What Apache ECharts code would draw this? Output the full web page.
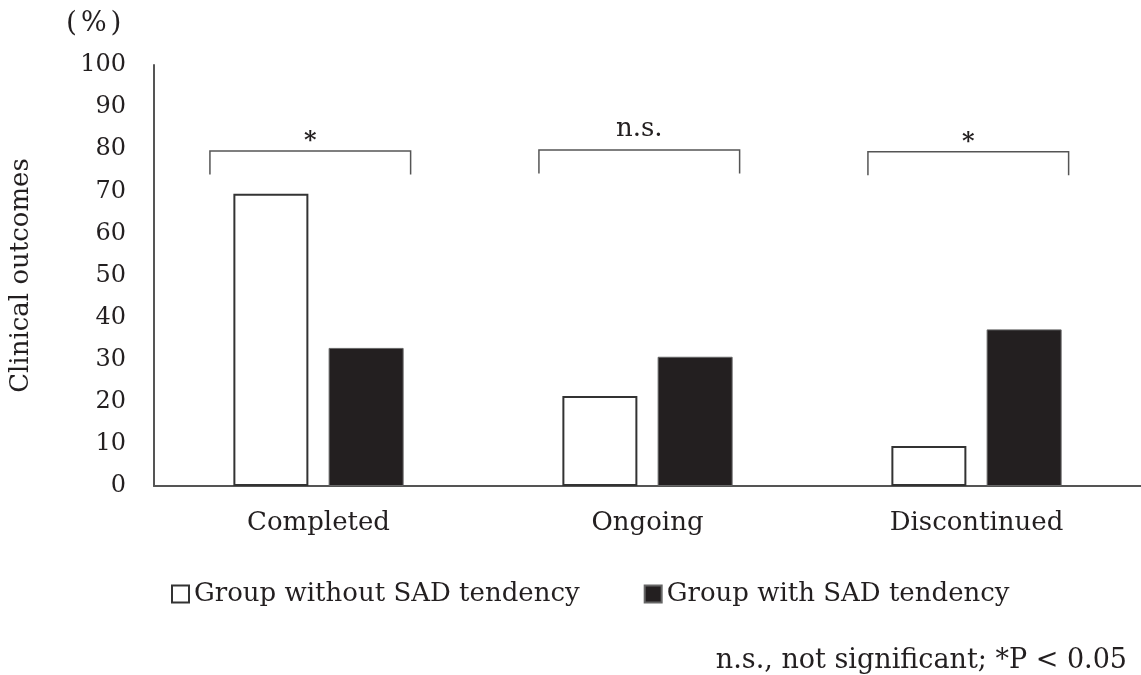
<!DOCTYPE html>
<html>
<head>
<meta charset="utf-8">
<script src="https://cdn.jsdelivr.net/npm/echarts@6/dist/echarts.min.js"></script>
<style>html,body{margin:0;padding:0;background:#fff;}#chart{width:1141px;height:675px;}</style>
</head>
<body>
<div id="chart"></div>
<script>
const categories = ['Completed', 'Ongoing', 'Discontinued'];
const seriesNames = ['Group without SAD tendency', 'Group with SAD tendency'];
const withoutSAD = [69.4, 21.4, 9.5];
const withSAD = [32.8, 30.7, 37.2];
const bracketCats = [0, 1, 2];
const bracketTop = [79.6, 79.8, 79.4];
const bracketBottom = [74.0, 74.2, 73.8];
const bracketLabels = ['*', 'n.s.', '*'];
const yTicks = [0, 10, 20, 30, 40, 50, 60, 70, 80, 90, 100];

const FONT = 'DejaVu Serif';
const TXT = '#231f20';

const bracketData = bracketCats.map((c, i) => [c, bracketTop[i], bracketBottom[i], i]);

const chart = echarts.init(document.getElementById('chart'));
chart.setOption({
  backgroundColor: '#fff',
  animation: false,
  textStyle: { fontFamily: FONT, color: TXT },
  grid: { left: 148, top: 65, width: 996, height: 421, containLabel: false },
  legend: {
    data: seriesNames,
    left: 166, top: 576,
    icon: 'rect', itemWidth: 17, itemHeight: 17, itemGap: 64,
    textStyle: { fontFamily: FONT, fontSize: 26, color: TXT, padding: [0, 0, 0, 0] }
  },
  xAxis: {
    type: 'category',
    data: categories,
    axisLine: { lineStyle: { color: '#555', width: 2 } },
    axisTick: { show: false },
    axisLabel: { fontFamily: FONT, fontSize: 26, color: TXT, margin: 24 }
  },
  yAxis: {
    type: 'value', min: 0, max: 100, interval: 10,
    name: 'Clinical outcomes', nameLocation: 'middle', nameGap: 120, nameRotate: 90,
    nameTextStyle: { fontFamily: FONT, fontSize: 26, color: TXT },
    axisLine: { show: true, lineStyle: { color: '#555', width: 2 } },
    axisTick: { show: false },
    splitLine: { show: false },
    axisLabel: { fontFamily: FONT, fontSize: 24, color: TXT, margin: 28,
      formatter: v => yTicks.includes(v) ? String(v) : '' }
  },
  series: [
    {
      name: seriesNames[0], type: 'bar', data: withoutSAD,
      barWidth: 75, barGap: '27%',
      itemStyle: { color: '#fff', borderColor: '#333', borderWidth: 2 }
    },
    {
      name: seriesNames[1], type: 'bar', data: withSAD,
      barWidth: 75,
      itemStyle: { color: '#231f20', borderColor: '#666', borderWidth: 1 }
    },
    {
      type: 'custom', name: 'brackets', silent: true, data: bracketData,
      renderItem: function (params, api) {
        const top = api.coord([api.value(0), api.value(1)]);
        const bot = api.coord([api.value(0), api.value(2)]);
        const band = api.size([1, 0])[0];
        const x1 = top[0] - 0.33 * band;
        const x2 = top[0] + 0.28 * band;
        const label = bracketLabels[api.value(3)];
        const star = label === '*';
        return {
          type: 'group',
          children: [
            { type: 'polyline',
              shape: { points: [[x1, bot[1]], [x1, top[1]], [x2, top[1]], [x2, bot[1]]] },
              style: { stroke: '#555', lineWidth: 1.5, fill: null } },
            { type: 'text',
              style: { text: label, x: (x1 + x2) / 2, y: top[1] + (star ? -21 : -8),
                align: 'center', verticalAlign: star ? 'top' : 'bottom',
                font: (star ? 'bold 24px ' : '26px ') + FONT, fill: TXT } }
          ]
        };
      }
    }
  ],
  graphic: [
    { type: 'text', left: 66, top: 10,
      style: { text: '{p|(}{q|%}{p|)}',
        rich: {
          p: { font: '28px ' + FONT, fill: TXT },
          q: { font: '27px ' + FONT, fill: TXT, padding: [0, 4, 0, 4] }
        } } },
    { type: 'text', right: 14, top: 647,
      style: { text: 'n.s., not significant; *P < 0.05', font: '27px ' + FONT, fill: TXT } }
  ]
});
</script>
</body>
</html>
